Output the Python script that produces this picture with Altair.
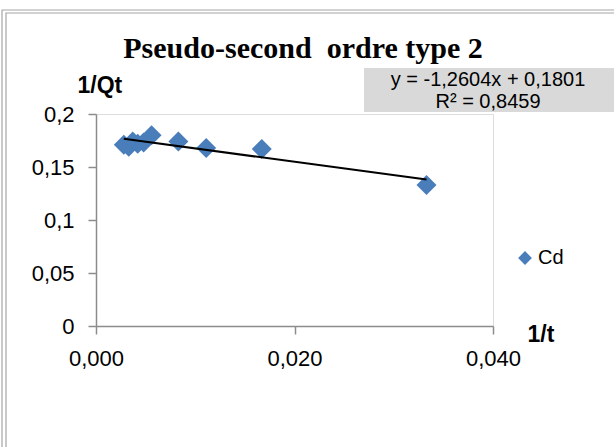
import altair as alt
import pandas as pd

# ---- data ----
inv_t = [0.0028, 0.0033, 0.0037, 0.0042, 0.0048, 0.0056, 0.0083, 0.0111, 0.0167, 0.0333]
inv_qt = [0.171, 0.169, 0.174, 0.172, 0.173, 0.180, 0.174, 0.168, 0.167, 0.133]
series_name = "Cd"
slope = -1.2604
intercept = 0.1801
eq_line1 = "y = -1,2604x + 0,1801"
eq_line2 = "R² = 0,8459"
title_text = "Pseudo-second\u00a0 ordre type 2"
x_ticks = [0.0, 0.02, 0.04]
y_ticks = [0.0, 0.05, 0.1, 0.15, 0.2]
x_domain = [0.0, 0.04]
y_domain = [0.0, 0.2]

W, H = 397, 212
PAD_L, PAD_T = 96, 114
FONT = "Liberation Sans"
GRAY = "#8c8c8c"
BLUE = "#4a7ebb"

pts = pd.DataFrame({"x": inv_t, "y": inv_qt, "s": [series_name] * len(inv_t)})
line_df = pd.DataFrame({"x": [min(inv_t), max(inv_t)]})

xs = alt.Scale(domain=x_domain, nice=False, zero=False)
ys = alt.Scale(domain=y_domain, nice=False)

x_axis = alt.Axis(
    values=x_ticks,
    labelExpr="replace(format(datum.value, '.3f'), '.', ',')",
    title="1/t", titleFont=FONT, titleFontSize=23, titleFontWeight="bold", titleColor="black",
    titleAnchor="start", titleAlign="left", titleBaseline="alphabetic",
    titleX=431, titleY=15, titleAngle=0,
    domainColor=GRAY, domainWidth=1.5, tickColor=GRAY, tickWidth=1.5, tickSize=8,
    labelFont=FONT, labelFontSize=22, labelColor="black", labelPadding=14,
    grid=False, labelFlush=False, labelOverlap=False,
)
y_axis = alt.Axis(
    values=y_ticks,
    labelExpr="replace(format(datum.value, '~g'), '.', ',')",
    title="1/Qt", titleFont=FONT, titleFontSize=23, titleFontWeight="bold", titleColor="black",
    titleAnchor="start", titleAlign="left", titleBaseline="alphabetic",
    titleX=-19, titleY=-22, titleAngle=0,
    domainColor=GRAY, domainWidth=1.5, tickColor=GRAY, tickWidth=1.5, tickSize=8,
    labelFont=FONT, labelFontSize=22, labelColor="black", labelPadding=14,
    grid=False, labelFlush=False, labelOverlap=False,
)

one = pd.DataFrame({"a": [0]})

frame_outer = alt.Chart(one).mark_rect(
    fill=None, stroke="#a6a6a6", strokeWidth=1.2, clip=False
).encode(x=alt.value(2 - PAD_L), x2=alt.value(640 - PAD_L),
         y=alt.value(10 - PAD_T), y2=alt.value(470 - PAD_T))
frame_inner = alt.Chart(one).mark_rect(
    fill=None, stroke="#a6a6a6", strokeWidth=1.2, clip=False
).encode(x=alt.value(6 - PAD_L), x2=alt.value(640 - PAD_L),
         y=alt.value(13 - PAD_T), y2=alt.value(470 - PAD_T))

eq_box = alt.Chart(one).mark_rect(
    fill="#d9d9d9", clip=False
).encode(x=alt.value(364 - PAD_L), x2=alt.value(620 - PAD_L),
         y=alt.value(68 - PAD_T), y2=alt.value(112 - PAD_T))

eq_text1 = alt.Chart(pd.DataFrame({"t": [eq_line1]})).mark_text(
    font=FONT, fontSize=20, color="black", align="center", baseline="alphabetic", clip=False
).encode(text="t:N", x=alt.value(488 - PAD_L), y=alt.value(86 - PAD_T))

eq_text2 = alt.Chart(pd.DataFrame({"t": [eq_line2]})).mark_text(
    font=FONT, fontSize=20, color="black", align="center", baseline="alphabetic", clip=False
).encode(text="t:N", x=alt.value(488 - PAD_L), y=alt.value(108 - PAD_T))

title = alt.Chart(pd.DataFrame({"t": [title_text]})).mark_text(
    font="Liberation Serif", fontSize=30, fontWeight="bold", color="black",
    align="center", baseline="alphabetic", clip=False
).encode(text="t:N", x=alt.value(303 - PAD_L), y=alt.value(58 - PAD_T))

points = alt.Chart(pts).mark_point(filled=True, opacity=1, size=400, shape="diamond").encode(
    x=alt.X("x:Q", scale=xs, axis=x_axis),
    y=alt.Y("y:Q", scale=ys, axis=y_axis),
    color=alt.Color("s:N", scale=alt.Scale(range=[BLUE]),
                    legend=alt.Legend(title=None, orient="none", legendX=419, legendY=134,
                                      symbolType="diamond", symbolSize=190,
                                      symbolStrokeWidth=0, labelFont=FONT,
                                      labelFontSize=20, labelColor="black", labelOffset=3,
                                      padding=0)),
)

trend = alt.Chart(line_df).transform_calculate(
    y=f"{slope} * datum.x + {intercept}"
).mark_line(color="black", strokeWidth=2).encode(
    x=alt.X("x:Q", scale=xs),
    y=alt.Y("y:Q", scale=ys),
)

chart = alt.layer(
    frame_outer, frame_inner, eq_box, eq_text1, eq_text2, title, points, trend
).properties(
    width=W, height=H,
    padding={"left": PAD_L, "top": PAD_T, "right": 614 - PAD_L - W, "bottom": 447 - PAD_T - H},
    autosize=alt.AutoSizeParams(type="none"),
).configure_view(stroke=None).configure(background="white")

chart.save("out.html", embed_options={"renderer": "svg", "actions": False})
